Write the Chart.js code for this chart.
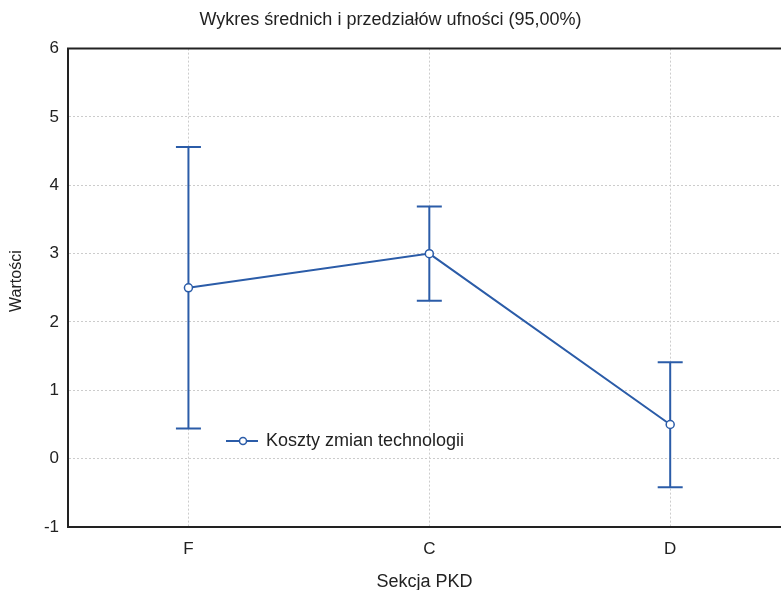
<!DOCTYPE html>
<html>
<head>
<meta charset="utf-8">
<script src="https://cdn.jsdelivr.net/npm/chart.js@4"></script>
<style>
  html, body { margin: 0; padding: 0; background: #fff; }
  #wrap { width: 781px; height: 590px; }
</style>
</head>
<body>
<div id="wrap"><canvas id="myChart" width="781" height="590"></canvas></div>
<script>
// Dane
const categories = ['F', 'C', 'D'];
const means = [2.5, 3.0, 0.5];
const lowerCI = [0.44, 2.31, -0.42];
const upperCI = [4.56, 3.69, 1.41];
const yTicks = [-1, 0, 1, 2, 3, 4, 5, 6];

const seriesName = 'Koszty zmian technologii';
const blue = '#2b5ca8';
const ink = '#222222';
const FONT = 'Liberation Sans, Arial, sans-serif';

// Punkty średnich
const meanPoints = means.map((m, i) => ({ x: i + 1, y: m }));

// Wąsy przedziałów ufności (przerwa między kategoriami przez null)
const errorPoints = [];
categories.forEach((c, i) => {
    errorPoints.push({ x: i + 1, y: lowerCI[i] });
    errorPoints.push({ x: i + 1, y: upperCI[i] });
    errorPoints.push({ x: i + 1, y: null });
});

// Górna krawędź obszaru wykresu
const topBorder = {
    id: 'topBorder',
    afterDraw(chart) {
        const { ctx, chartArea } = chart;
        ctx.save();
        ctx.strokeStyle = ink;
        ctx.lineWidth = 2;
        ctx.beginPath();
        ctx.moveTo(chartArea.left - 1, chartArea.top);
        ctx.lineTo(chartArea.right, chartArea.top);
        ctx.stroke();
        ctx.restore();
    }
};

// Legenda wewnątrz obszaru wykresu
const innerLegend = {
    id: 'innerLegend',
    afterDraw(chart) {
        const ctx = chart.ctx;
        const x0 = 226, y0 = 441;
        ctx.save();
        ctx.strokeStyle = blue;
        ctx.lineWidth = 2;
        ctx.beginPath();
        ctx.moveTo(x0, y0);
        ctx.lineTo(x0 + 32, y0);
        ctx.stroke();
        ctx.beginPath();
        ctx.arc(x0 + 17, y0, 3.5, 0, Math.PI * 2);
        ctx.fillStyle = '#fff';
        ctx.fill();
        ctx.lineWidth = 1.5;
        ctx.stroke();
        ctx.fillStyle = ink;
        ctx.font = '18px ' + FONT;
        ctx.textBaseline = 'middle';
        ctx.fillText(seriesName, x0 + 40, y0);
        ctx.restore();
    }
};

const ctx = document.getElementById('myChart').getContext('2d');
new Chart(ctx, {
    type: 'line',
    data: {
        datasets: [
            {
                label: seriesName,
                data: meanPoints,
                borderColor: blue,
                borderWidth: 2,
                pointStyle: 'circle',
                pointRadius: 4,
                pointBorderWidth: 1.5,
                pointBackgroundColor: '#fff',
                pointBorderColor: blue,
                tension: 0
            },
            {
                label: 'CI',
                data: errorPoints,
                borderColor: blue,
                borderWidth: 2,
                spanGaps: false,
                pointStyle: 'line',
                pointRadius: 12.5,
                pointBorderWidth: 2,
                pointBorderColor: blue
            }
        ]
    },
    options: {
        responsive: false,
        animation: false,
        events: [],
        layout: { padding: 0, autoPadding: false },
        plugins: {
            legend: { display: false },
            tooltip: { enabled: false },
            title: {
                display: true,
                text: 'Wykres średnich i przedziałów ufności (95,00%)',
                color: ink,
                font: { family: FONT, size: 18, weight: 'normal' },
                padding: { top: 9, bottom: 18 }
            }
        },
        scales: {
            x: {
                type: 'linear',
                min: 0.5,
                max: 3.46,
                afterBuildTicks: scale => {
                    scale.ticks = categories.map((c, i) => ({ value: i + 1 }));
                },
                afterFit: scale => { scale.height = 63; },
                ticks: {
                    color: ink,
                    font: { family: FONT, size: 17 },
                    padding: 12,
                    callback: v => categories[v - 1]
                },
                grid: { color: '#cccccc', lineWidth: 1, drawTicks: false },
                border: { color: ink, width: 2, dash: [2, 2] },
                title: {
                    display: true,
                    text: 'Sekcja PKD',
                    color: ink,
                    font: { family: FONT, size: 18 },
                    padding: { top: -3, bottom: -3 }
                }
            },
            y: {
                min: -1,
                max: 6,
                afterBuildTicks: scale => {
                    scale.ticks = yTicks.map(v => ({ value: v }));
                },
                afterFit: scale => { scale.width = 68; },
                ticks: {
                    color: ink,
                    font: { family: FONT, size: 17 },
                    padding: 9
                },
                grid: { color: '#cccccc', lineWidth: 1, drawTicks: false },
                border: { color: ink, width: 2, dash: [2, 2] },
                title: {
                    display: true,
                    text: '   Wartości',
                    color: ink,
                    font: { family: FONT, size: 16 },
                    padding: { top: 7, bottom: 7 }
                }
            }
        }
    },
    plugins: [topBorder, innerLegend]
});
</script>
</body>
</html>
